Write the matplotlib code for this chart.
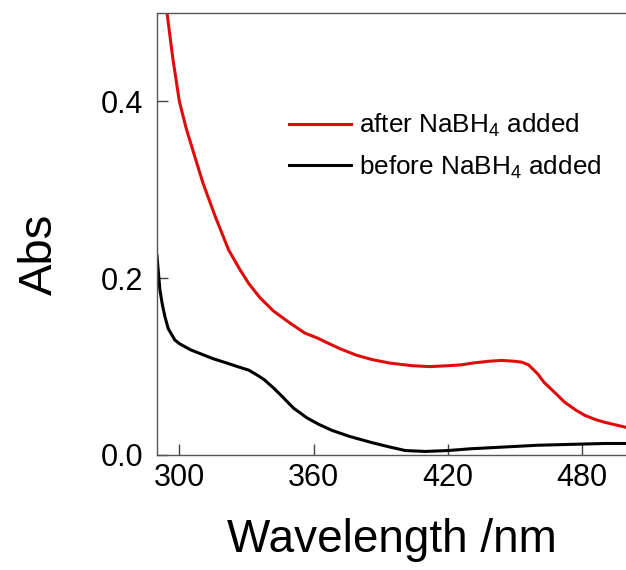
import matplotlib.pyplot as plt

plt.rcParams['font.family'] = ['Liberation Sans', 'DejaVu Sans']
plt.rcParams['mathtext.fontset'] = 'custom'
plt.rcParams['mathtext.rm'] = 'Liberation Sans'

# spectra
wl_after = [294.5, 297, 300, 303, 306, 310.5, 316, 322, 327, 331, 336, 342, 349, 356, 362, 366,
            372, 379, 386, 394, 404, 412, 420, 426, 431, 438, 444, 450, 453, 456, 460,
            463, 468, 472, 477, 481, 486, 490, 495, 500]
abs_after = [0.5, 0.45, 0.4, 0.37, 0.345, 0.308, 0.27, 0.232, 0.21, 0.194, 0.178, 0.163, 0.15,
             0.138, 0.132, 0.127, 0.12, 0.113, 0.108, 0.104, 0.101, 0.1, 0.101, 0.102, 0.104,
             0.106, 0.107, 0.106, 0.105, 0.102, 0.092, 0.082, 0.07, 0.06, 0.051, 0.045, 0.04,
             0.037, 0.034, 0.031]

wl_before = [290, 291.3, 292.4, 293.5, 295, 298, 300, 305, 310, 315, 320, 326, 331, 335, 338,
             342, 346, 351, 357, 362, 368, 376, 386, 394, 401, 410, 420, 430, 445, 460, 475,
             490, 500]
abs_before = [0.225, 0.187, 0.17, 0.157, 0.143, 0.13, 0.126, 0.119, 0.114, 0.109, 0.105, 0.1,
              0.096, 0.09, 0.085, 0.076, 0.066, 0.053, 0.042, 0.035, 0.028, 0.021, 0.014, 0.009,
              0.005, 0.004, 0.005, 0.007, 0.009, 0.011, 0.012, 0.013, 0.013]

x_ticks = [300, 360, 420, 480]
y_ticks = [0.0, 0.2, 0.4]

fig = plt.figure(figsize=(6.26, 5.70), dpi=100)
ax = fig.add_axes([0.2508, 0.2018, 0.7508, 0.7752])

ax.plot(wl_after, abs_after, color='#e00b0b', lw=2.2, label='after NaBH$_4$ added')
ax.plot(wl_before, abs_before, color='black', lw=2.2, label='before NaBH$_4$ added')

ax.set_xlim(290, 500)
ax.set_ylim(0, 0.5)
ax.set_xticks(x_ticks)
ax.set_yticks(y_ticks)
ax.set_yticklabels(['%.1f' % v for v in y_ticks])
ax.tick_params(direction='in', length=8, width=1, labelsize=22, color='#444444')
ax.tick_params(axis='y', pad=10)
ax.tick_params(axis='x', pad=6)
for sp in ax.spines.values():
    sp.set_color('#555555')
    sp.set_linewidth(1)

ax.set_xlabel('Wavelength /nm', fontsize=33)
ax.set_ylabel('Abs', fontsize=34)
ax.xaxis.set_label_coords(0.5, -0.143)
ax.yaxis.set_label_coords(-0.202, 0.455)

ax.legend(loc='upper left', bbox_to_anchor=(0.23, 0.83), frameon=False, fontsize=18.8,
          handlelength=2.4, handletextpad=0.3, labelspacing=0.55)

fig.savefig('out.png', dpi=100)
